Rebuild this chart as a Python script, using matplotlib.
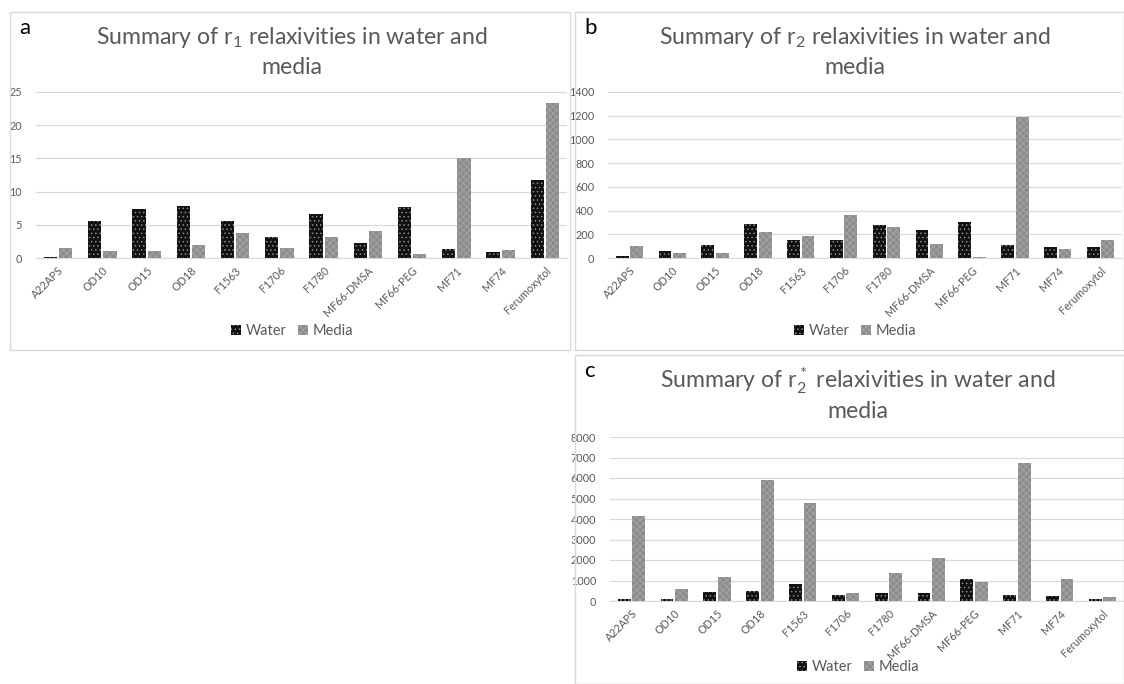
import matplotlib
matplotlib.use("Agg")
import matplotlib.pyplot as plt
from matplotlib.patches import Rectangle, Patch
import numpy as np

plt.rcParams['font.family'] = ['Lato', 'DejaVu Sans']
plt.rcParams['mathtext.default'] = 'regular'
plt.rcParams['hatch.linewidth'] = 0.6

categories = ["A22APS", "OD10", "OD15", "OD18", "F1563", "F1706", "F1780",
              "MF66-DMSA", "MF66-PEG", "MF71", "MF74", "Ferumoxytol"]

r1_water = [0.2, 5.6, 7.4, 7.8, 5.6, 3.1, 6.6, 2.3, 7.7, 1.3, 0.9, 11.7]
r1_media = [1.5, 1.0, 1.1, 2.0, 3.8, 1.5, 3.2, 4.1, 0.6, 15.0, 1.2, 23.3]

r2_water = [15, 60, 110, 285, 150, 150, 275, 240, 305, 110, 95, 90]
r2_media = [100, 40, 45, 220, 185, 365, 260, 120, 10, 1190, 75, 150]

r2s_water = [80, 120, 420, 500, 830, 280, 380, 380, 1080, 300, 250, 80]
r2s_media = [4130, 600, 1190, 5880, 4760, 400, 1350, 2100, 930, 6720, 1060, 180]

r1_ticks = [0, 5, 10, 15, 20, 25]
r2_ticks = [0, 200, 400, 600, 800, 1000, 1200, 1400]
r2s_ticks = [0, 1000, 2000, 3000, 4000, 5000, 6000, 7000, 8000]

W, H = 1124, 684
fig = plt.figure(figsize=(W / 100, H / 100), dpi=100)
TXT = '#595959'
WATER_FC, WATER_EC = '#111111', '#8a8a8a'
MEDIA_FC, MEDIA_EC = '#8c8c8c', '#a6a6a6'

def px_rect(x0, y0, x1, y1):
    return [x0 / W, 1 - y1 / H, (x1 - x0) / W, (y1 - y0) / H]

def panel(box, axbox, label, title_lines, water, media, ticks, legend_y, cx):
    x0, y0, x1, y1 = box
    fig.add_artist(Rectangle((x0 / W, 1 - y1 / H), (x1 - x0) / W, (y1 - y0) / H,
                             transform=fig.transFigure, fill=False,
                             edgecolor='#d9d9d9', linewidth=1.0))
    fig.text((x0 + 9) / W, 1 - (y0 + 16) / H, label, fontsize=16,
             color='black', va='center', ha='left')
    fig.text(cx / W, 1 - (y0 + 26) / H, title_lines[0], fontsize=16.6,
             color=TXT, ha='center', va='center')
    fig.text(cx / W, 1 - (y0 + 56) / H, title_lines[1], fontsize=16.6,
             color=TXT, ha='center', va='center')
    ax = fig.add_axes(px_rect(*axbox))
    x = np.arange(len(categories))
    bw = 0.3
    ax.bar(x - 0.17, water, bw, facecolor=WATER_FC, edgecolor=WATER_EC,
           hatch='....', linewidth=0, zorder=3)
    ax.bar(x + 0.17, media, bw, facecolor=MEDIA_FC, edgecolor=MEDIA_EC,
           hatch='xxxxx', linewidth=0, zorder=3)
    ax.set_xlim(-0.5, len(categories) - 0.5)
    ax.set_ylim(ticks[0], ticks[-1])
    ax.set_yticks(ticks)
    ax.yaxis.grid(True, color='#d9d9d9', linewidth=0.9, zorder=0)
    ax.set_xticks(x)
    ax.set_xticklabels(categories, rotation=45, ha='right', rotation_mode='anchor',
                       fontsize=7.8, color=TXT)
    ax.tick_params(axis='y', labelsize=7.8, labelcolor=TXT, length=0, pad=10)
    ax.tick_params(axis='x', length=0, pad=5)
    for s in ['top', 'right', 'left']:
        ax.spines[s].set_visible(False)
    ax.spines['bottom'].set_color('#d9d9d9')
    handles = [Patch(facecolor=WATER_FC, edgecolor=WATER_EC, hatch='....', linewidth=0),
               Patch(facecolor=MEDIA_FC, edgecolor=MEDIA_EC, hatch='xxxxx', linewidth=0)]
    fig.legend(handles, ['Water', 'Media'], loc='center',
               bbox_to_anchor=(cx / W, 1 - legend_y / H),
               ncol=2, frameon=False, fontsize=10.5, handlelength=0.7,
               handleheight=0.7, handletextpad=0.3, columnspacing=0.8,
               labelcolor=TXT)
    return ax

panel((10, 12, 570, 350), (36, 92, 567, 258), 'a',
      ['Summary of r$_1$ relaxivities in water and', 'media'],
      r1_water, r1_media, r1_ticks, 331, 292)
panel((575, 12, 1124, 350), (608, 92, 1122, 258), 'b',
      ['Summary of r$_2$ relaxivities in water and', 'media'],
      r2_water, r2_media, r2_ticks, 331, 855)
panel((575, 355, 1124, 684), (610, 437, 1124, 601), 'c',
      ['Summary of r$_2^*$ relaxivities in water and', 'media'],
      r2s_water, r2s_media, r2s_ticks, 667, 858)

fig.savefig('out.png', dpi=100)
